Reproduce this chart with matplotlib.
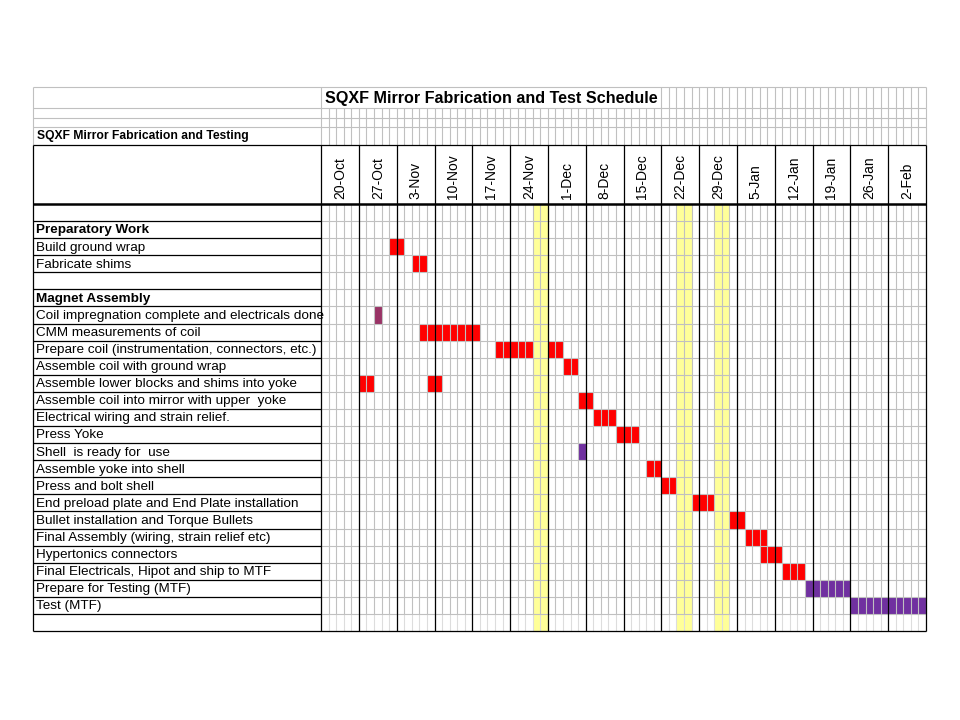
import matplotlib
matplotlib.use('Agg')
from matplotlib import pyplot as plt

plt.rcParams['font.family'] = ['Liberation Sans', 'DejaVu Sans']

# ---------------- data ----------------
title = 'SQXF Mirror Fabrication and Test Schedule'
subtitle = 'SQXF Mirror Fabrication and Testing'

weeks = ['20-Oct', '27-Oct', '3-Nov', '10-Nov', '17-Nov', '24-Nov', '1-Dec', '8-Dec',
         '15-Dec', '22-Dec', '29-Dec', '5-Jan', '12-Jan', '19-Jan', '26-Jan', '2-Feb']
days_per_week = 5

tasks = ['',
         'Preparatory Work',
         'Build ground wrap',
         'Fabricate shims',
         '',
         'Magnet Assembly',
         'Coil impregnation complete and electricals done',
         'CMM measurements of coil',
         'Prepare coil (instrumentation, connectors, etc.)',
         'Assemble coil with ground wrap',
         'Assemble lower blocks and shims into yoke',
         'Assemble coil into mirror with upper  yoke',
         'Electrical wiring and strain relief.',
         'Press Yoke',
         'Shell  is ready for  use',
         'Assemble yoke into shell',
         'Press and bolt shell',
         'End preload plate and End Plate installation',
         'Bullet installation and Torque Bullets',
         'Final Assembly (wiring, strain relief etc)',
         'Hypertonics connectors',
         'Final Electricals, Hipot and ship to MTF',
         'Prepare for Testing (MTF)',
         'Test (MTF)',
         '']
headings = ['Preparatory Work', 'Magnet Assembly']

# (first working-day column, number of days)
schedule = {
    'Build ground wrap': [(9, 2)],
    'Fabricate shims': [(12, 2)],
    'Coil impregnation complete and electricals done': [(7, 1)],
    'CMM measurements of coil': [(13, 8)],
    'Prepare coil (instrumentation, connectors, etc.)': [(23, 5), (30, 2)],
    'Assemble coil with ground wrap': [(32, 2)],
    'Assemble lower blocks and shims into yoke': [(5, 2), (14, 2)],
    'Assemble coil into mirror with upper  yoke': [(34, 2)],
    'Electrical wiring and strain relief.': [(36, 3)],
    'Press Yoke': [(39, 3)],
    'Shell  is ready for  use': [(34, 1)],
    'Assemble yoke into shell': [(43, 2)],
    'Press and bolt shell': [(45, 2)],
    'End preload plate and End Plate installation': [(49, 3)],
    'Bullet installation and Torque Bullets': [(54, 2)],
    'Final Assembly (wiring, strain relief etc)': [(56, 3)],
    'Hypertonics connectors': [(58, 3)],
    'Final Electricals, Hipot and ship to MTF': [(61, 3)],
    'Prepare for Testing (MTF)': [(64, 6)],
    'Test (MTF)': [(70, 10)],
}
task_colors = {
    'Coil impregnation complete and electricals done': '#993366',
    'Shell  is ready for  use': '#7030A0',
    'Prepare for Testing (MTF)': '#7030A0',
    'Test (MTF)': '#7030A0',
}
holiday_cols = [28, 29, 47, 48, 52, 53]

# ---------------- layout ----------------
ncols = len(weeks) * days_per_week
nrows = len(tasks)
label_w = 38.1          # label column width in day-columns
head_top = -3.454       # header top (rows)
sub_top = -4.508
mid_top = -5.035
row2_top = -5.62
title_top = -6.85
title_end = 45          # merged title cell ends at this column

grey = '#C0C0C0'
red = '#FF0000'

fig = plt.figure(figsize=(9.6, 7.2), dpi=100)
ax = fig.add_axes([33 / 960, 1 - 631 / 720, (926 - 33) / 960, (631 - 87) / 720])
ax.set_xlim(-label_w, ncols)
ax.set_ylim(nrows, title_top)
ax.axis('off')

# holidays
for c in holiday_cols:
    ax.bar(c, nrows, bottom=0, width=1, align='edge', color='#FFFF99', zorder=1)

# task bars
for i, t in enumerate(tasks):
    for start, n in schedule.get(t, []):
        ax.barh(i, n, left=start, height=1, align='edge',
                color=task_colors.get(t, red), zorder=2)

# grey cell grid
gkw = dict(color=grey, lw=0.8, zorder=3, clip_on=False)
ax.vlines(range(ncols + 1), 0, nrows - 1, **gkw)
ax.vlines(range(ncols + 1), nrows - 1, nrows, color='#DDDDDD', lw=0.8, zorder=3)
ax.vlines(range(ncols + 1), row2_top, head_top, **gkw)
ax.vlines(range(title_end, ncols + 1), title_top, row2_top, **gkw)
ax.vlines(0, title_top, row2_top, **gkw)
ax.hlines(range(nrows + 1), 0, ncols, **gkw)
ax.hlines([title_top, row2_top, mid_top, sub_top], -label_w, ncols, **gkw)
ax.vlines([-label_w], title_top, head_top, **gkw)

# black borders
bkw = dict(color='black', lw=0.9, zorder=4, clip_on=False)
ax.vlines(range(0, ncols + 1, days_per_week), head_top, nrows, **bkw)
ax.vlines(-label_w, head_top, nrows, **bkw)
ax.hlines(range(1, nrows), -label_w, 0, **bkw)
ax.hlines([head_top, nrows], -label_w, ncols, **bkw)
ax.hlines(0, -label_w, ncols, color='black', lw=1.8, zorder=4, clip_on=False)

# texts
ax.text(title_end / 2, (title_top + row2_top) / 2 + 0.05, title, ha='center', va='center',
        fontsize=11.6, fontweight='bold', zorder=5,
        bbox=dict(facecolor='white', edgecolor='none', pad=1))
ax.text(-label_w + 0.5, (sub_top + head_top) / 2, subtitle, ha='left', va='center',
        fontsize=8.7, fontweight='bold', zorder=5)

for k, w in enumerate(weeks):
    ax.text(k * days_per_week + days_per_week / 2, -0.3, w, rotation=90,
            ha='center', va='bottom', fontsize=10, zorder=5)

for i, t in enumerate(tasks):
    if t:
        ax.text(-label_w + 0.4, i + 0.55, t, ha='left', va='center', fontsize=9.7,
                fontweight='bold' if t in headings else 'normal', zorder=5)

fig.savefig('out.png', dpi=100, facecolor='white')
